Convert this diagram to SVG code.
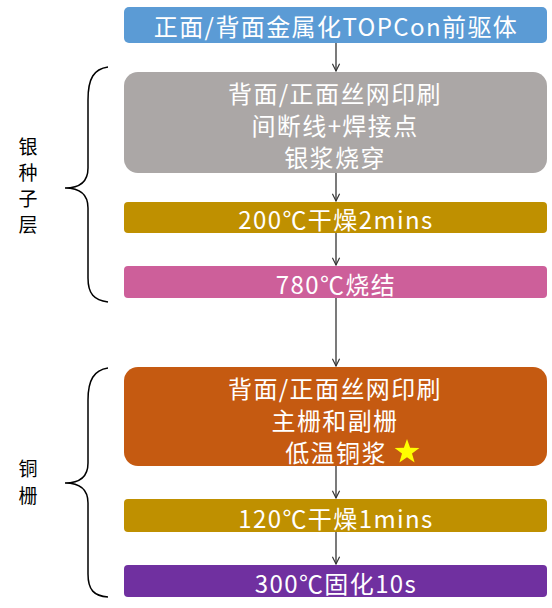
<svg xmlns="http://www.w3.org/2000/svg" width="552" height="608" viewBox="0 0 552 608">
<defs>
<style>
.t{font-family:"Noto Sans CJK SC","Noto Sans",sans-serif;fill:#fff;text-anchor:middle;dominant-baseline:central;font-size:24px;letter-spacing:1.4px}
.lab{font-family:"Noto Sans CJK SC",sans-serif;fill:#000;text-anchor:middle;dominant-baseline:central;font-size:19px}
.c{stroke:#333;stroke-width:1.3;fill:none}
.br{stroke:#000;stroke-width:1.5;fill:none}
</style>
<marker id="ah" viewBox="0 0 10 10" refX="9" refY="5" markerWidth="9" markerHeight="9" markerUnits="userSpaceOnUse" orient="auto"><path d="M1,1 L9,5 L1,9" fill="none" stroke="#333" stroke-width="1.3"/></marker>
</defs>
<rect width="552" height="608" fill="#fff"/>
<g id="connectors">
<line class="c" x1="336" y1="43" x2="336" y2="71" marker-end="url(#ah)"/>
<line class="c" x1="336" y1="173" x2="336" y2="201" marker-end="url(#ah)"/>
<line class="c" x1="336" y1="233" x2="336" y2="265" marker-end="url(#ah)"/>
<line class="c" x1="336" y1="298" x2="336" y2="366" marker-end="url(#ah)"/>
<line class="c" x1="336" y1="466" x2="336" y2="498" marker-end="url(#ah)"/>
<line class="c" x1="336" y1="532" x2="336" y2="564" marker-end="url(#ah)"/>
</g>
<g id="n1"><rect x="124" y="7" width="423" height="36" rx="5" fill="#5b9bd5"/><text class="t" x="336" y="25">正面/背面金属化TOPCon前驱体</text></g>
<g id="n2"><rect x="124" y="72" width="423" height="101" rx="14" fill="#aba7a6"/>
<text class="t"><tspan x="335" y="92">背面/正面丝网印刷</tspan><tspan x="335" y="124">间断线+焊接点</tspan><tspan x="335" y="156">银浆烧穿</tspan></text></g>
<g id="n3"><rect x="124" y="202" width="423" height="31" rx="4" fill="#bf9000"/><text class="t" x="336" y="218">200℃干燥2mins</text></g>
<g id="n4"><rect x="124" y="266" width="423" height="32" rx="4" fill="#cd5f9a"/><text class="t" x="336" y="283">780℃烧结</text></g>
<g id="n5"><rect x="124" y="367" width="423" height="99" rx="14" fill="#c55a11"/>
<text class="t"><tspan x="335" y="387">背面/正面丝网印刷</tspan><tspan x="335" y="419">主栅和副栅</tspan><tspan x="336" y="451">低温铜浆</tspan></text>
<polygon points="407,439 410.1,447.8 419.4,448 412,453.6 414.6,462.5 407,457.3 399.4,462.5 402,453.6 394.6,448 403.9,447.8" fill="#ffff00"/></g>
<g id="n6"><rect x="124" y="499" width="423" height="33" rx="4" fill="#bf9000"/><text class="t" x="336" y="517">120℃干燥1mins</text></g>
<g id="n7"><rect x="124" y="565" width="423" height="32" rx="4" fill="#7030a0"/><text class="t" x="336" y="582">300℃固化10s</text></g>
<g id="brace1"><path class="br" d="M108,67 C94,69 88,78 88,100 L88,168 C88,182 80,188 65,188 C80,188 88,194 88,208 L88,278 C88,294 94,300 108,302"/>
<text class="lab"><tspan x="28" y="145">银</tspan><tspan x="28" y="171">种</tspan><tspan x="28" y="197">子</tspan><tspan x="28" y="223">层</tspan></text></g>
<g id="brace2"><path class="br" d="M108,368 C94,370 88,380 88,400 L88,463 C88,477 80,483 65,483 C80,483 88,489 88,503 L88,574 C88,590 94,596 108,597"/>
<text class="lab"><tspan x="28" y="467">铜</tspan><tspan x="28" y="494">栅</tspan></text></g>
</svg>
